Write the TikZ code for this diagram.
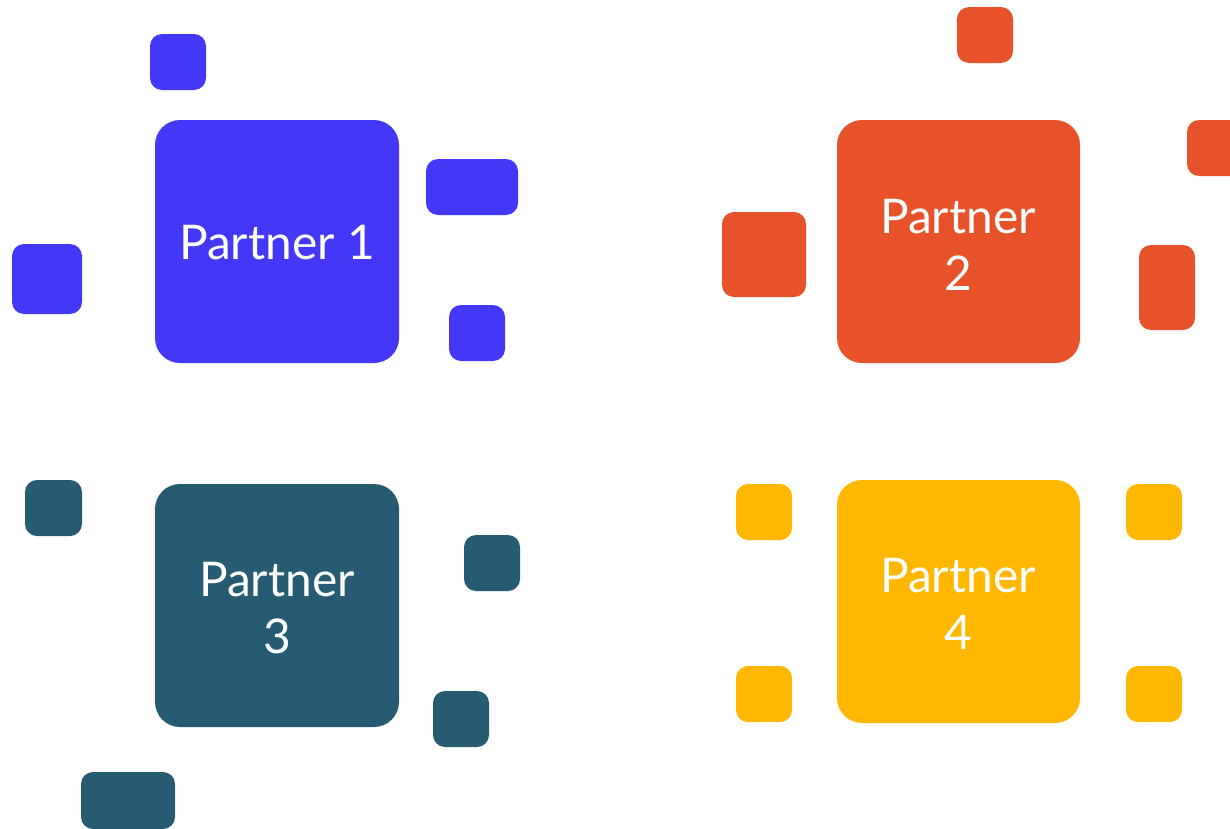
\documentclass[tikz,border=0pt]{standalone}
\usepackage{fontspec}
\setmainfont{Lato}
\definecolor{cblue}{HTML}{4338F7}
\definecolor{cred}{HTML}{E8522A}
\definecolor{cteal}{HTML}{265B72}
\definecolor{cyel}{HTML}{FFB700}
\tikzset{
  big/.style={fill=#1, rounded corners=25bp},
  small/.style={fill=#1, rounded corners=12bp},
  lbl/.style={text=white, font=\fontsize{48}{57}\selectfont, align=center}
}
\begin{document}
\begin{tikzpicture}[x=1bp,y=-1bp]
\useasboundingbox (0,0) rectangle (1230,829);
% Partner 1
\path[big=cblue] (155,120) rectangle (399,363);
\node[lbl] (p1) at (277,243) {Partner 1};
\path[small=cblue] (150,34) rectangle (206,90);
\path[small=cblue] (426,159) rectangle (518,215);
\path[small=cblue] (12,244) rectangle (82,314);
\path[small=cblue] (449,305) rectangle (505,361);
% Partner 2
\path[big=cred] (837,120) rectangle (1080,363);
\node[lbl] (p2) at (958,245) {Partner\\2};
\path[small=cred] (957,7) rectangle (1013,63);
\path[small=cred] (1187,120) rectangle (1260,176);
\path[small=cred] (722,212) rectangle (806,297);
\path[small=cred] (1139,245) rectangle (1195,330);
% Partner 3
\path[big=cteal] (155,484) rectangle (399,727);
\node[lbl] (p3) at (277,608) {Partner\\3};
\path[small=cteal] (25,480) rectangle (82,536);
\path[small=cteal] (464,535) rectangle (520,591);
\path[small=cteal] (433,691) rectangle (489,747);
\path[small=cteal] (81,772) rectangle (175,829);
% Partner 4
\path[big=cyel] (837,480) rectangle (1080,723);
\node[lbl] (p4) at (958,604) {Partner\\4};
\path[small=cyel] (736,484) rectangle (792,540);
\path[small=cyel] (1126,484) rectangle (1182,540);
\path[small=cyel] (736,666) rectangle (792,722);
\path[small=cyel] (1126,666) rectangle (1182,722);
\end{tikzpicture}
\end{document}
